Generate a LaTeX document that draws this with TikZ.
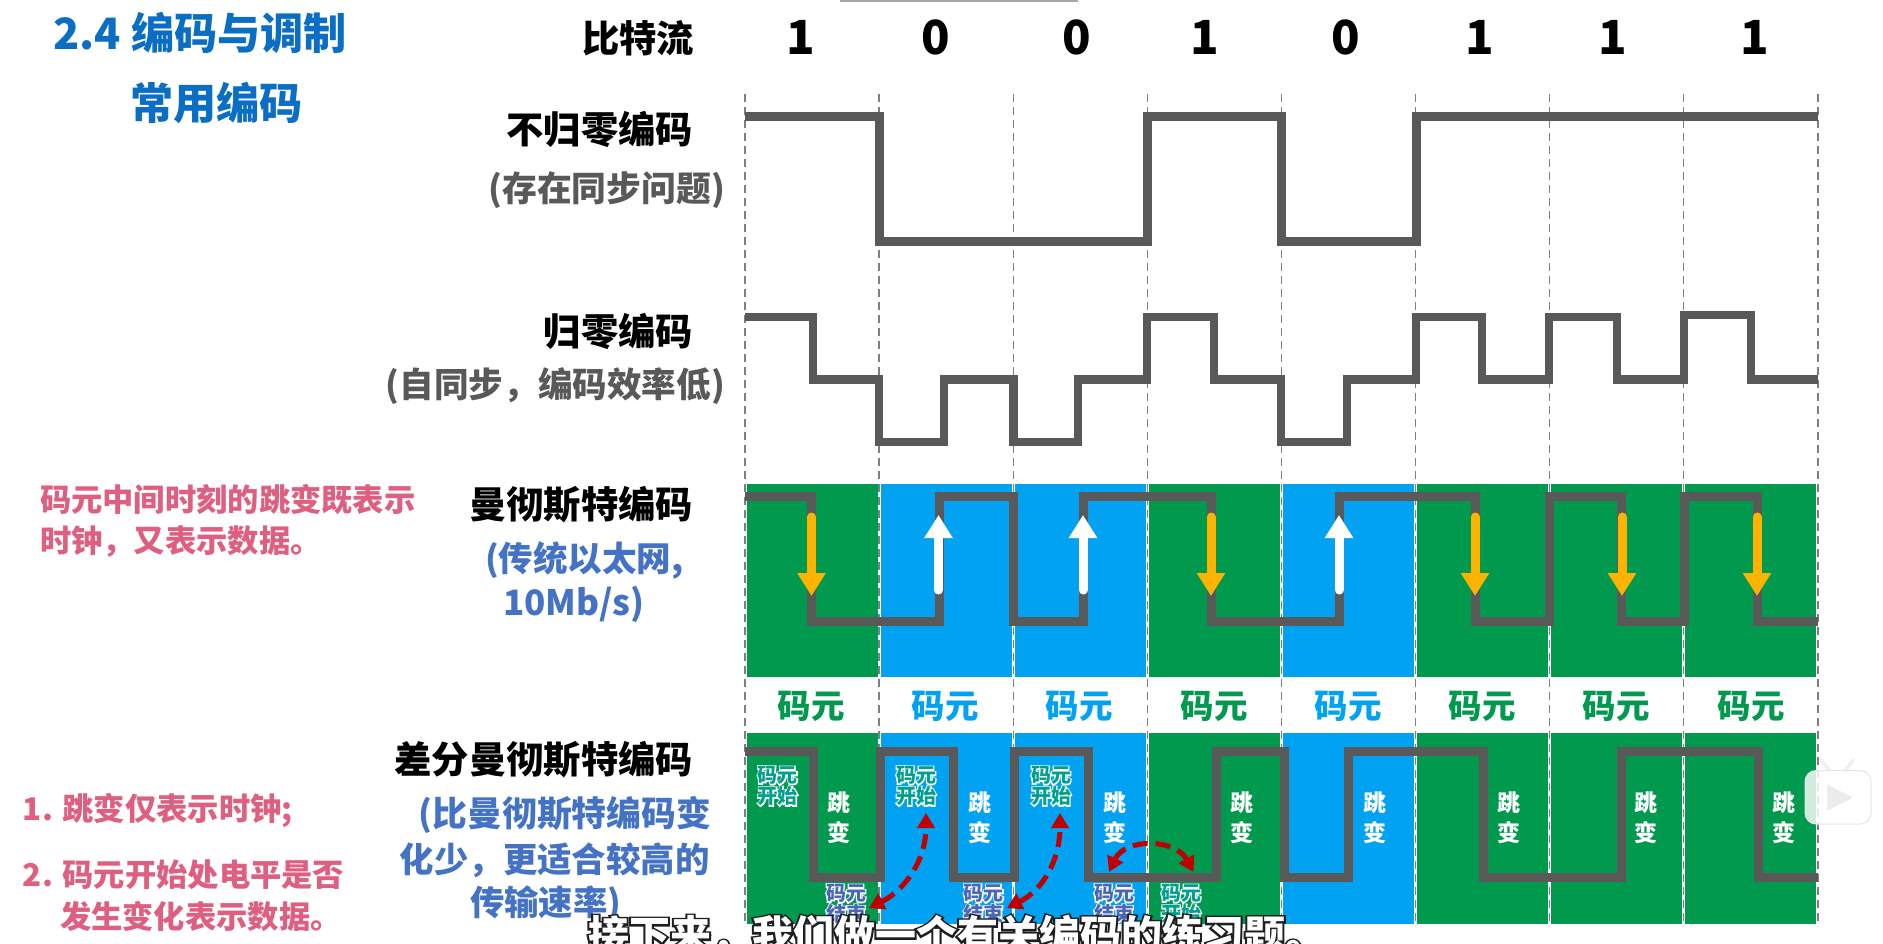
\documentclass[tikz,border=0pt]{standalone}
\usepackage{fontspec}
\setmainfont{Noto Sans CJK SC}
\usetikzlibrary{arrows.meta}
\definecolor{cgreen}{HTML}{00994E}
\definecolor{cblue}{HTML}{00A2F1}
\definecolor{wave}{HTML}{595959}
\definecolor{gridc}{HTML}{7F7F7F}
\definecolor{titleblue}{HTML}{0B6EC5}
\definecolor{noteblue}{HTML}{4472C4}
\definecolor{pinkc}{HTML}{DF5F80}
\definecolor{teal}{HTML}{00A08C}
\definecolor{labblue}{HTML}{4A66B8}
\definecolor{redc}{HTML}{C00000}
\definecolor{amber}{HTML}{FFB300}
% text with an outline behind it: width, stroke colour, text
\newcommand{\halotext}[3]{\leavevmode\rlap{\special{pdf:code 2 Tr #1 w #2 RG #2 rg}#3\special{pdf:code 0 Tr 1 w}}\textcolor{.}{#3}}
\tikzset{
  txt/.style={inner sep=0pt,outer sep=0pt,font=\fontsize{#1}{#1}\selectfont\bfseries},
  wavepath/.style={draw=wave,line width=9pt,miter limit=4},
  blockg/.style={fill=cgreen},
  blockb/.style={fill=cblue},
  gridline/.style={draw=gridc,line width=1.4pt,dash pattern=on 8pt off 5pt},
  upar/.style={white,line width=9pt,line cap=round,-{Triangle[length=23pt,width=27pt]}},
  downar/.style={amber,line width=9pt,line cap=round,-{Triangle[length=23pt,width=27pt]}},
  redar/.style={redc,line width=5pt,dash pattern=on 15pt off 8pt,{Triangle[length=15pt,width=17pt]}-{Triangle[length=15pt,width=17pt]}},
  jump/.style={txt=23,white,align=center},
  small/.style={txt=20,align=center},
}
\begin{document}
\begin{tikzpicture}[x=1pt,y=-1pt]
\useasboundingbox (0,0) rectangle (1883,943);
\fill[fill=gray!70] (840,0) rectangle (1078,1.5);

% coloured symbol blocks
\foreach \i/\st in {0/blockg,1/blockb,2/blockb,3/blockg,4/blockb,5/blockg,6/blockg,7/blockg}{
  \path[\st] ({745+134.1*\i+1.5},484) rectangle ({745+134.1*(\i+1)-1.5},676.5);
  \path[\st] ({745+134.1*\i+1.5},733) rectangle ({745+134.1*(\i+1)-1.5},924);
}
% grid
\foreach \i in {0,...,8}{
  \coordinate (gt\i) at ({745+134.1*\i},94);
  \coordinate (gb\i) at ({745+134.1*\i},926);
  \draw[gridline] (gt\i) -- (gb\i);
}

% waveforms
\draw[wavepath] (745,116.5) -| (879,241.5) -| (1147,116.5) -| (1281,241.5) -| (1416,116.5) -- (1818,116.5);
\draw[wavepath,line width=8.5pt] (745,317) -| (813,379.5) -| (879,442) -| (944,379.5) -| (1013.5,442) -| (1078,379.5) -| (1147,317) -| (1214,379.5) -| (1281,442) -| (1347,379.5) -| (1416,317) -| (1482,379.5) -| (1549,317) -| (1617,379.5) -| (1684,315) -| (1751,379.5) -- (1818,379.5);
\draw[wavepath] (745,496) -| (811,621.5) -| (939,496) -| (1013.5,621.5) -| (1083,496) -| (1211,621.5) -| (1339,496) -| (1475,621.5) -| (1549,496) -| (1621,621.5) -| (1684,496) -| (1757,621.5) -- (1818,621.5);
\draw[wavepath] (745,751) -| (813,877) -| (880,751) -| (953,877) -| (1014.5,751) -| (1088,877) -| (1216,751) -| (1284,877) -| (1348,751) -| (1483.5,877) -| (1621,751) -| (1758,877) -- (1818,877);

% transition arrows of the Manchester row
\foreach \x [count=\n] in {811.5,1211,1475,1622,1757}{
  \coordinate (da\n) at (\x,517);
  \coordinate (db\n) at (\x,596);
  \draw[downar] (da\n) -- (db\n);
}
\foreach \x [count=\n] in {938.5,1083,1339}{
  \coordinate (ua\n) at (\x,590);
  \coordinate (ub\n) at (\x,515);
  \draw[upar] (ua\n) -- (ub\n);
}

% title and row labels
\node[txt=43.2,titleblue,anchor=west] (title1) at (53.5,33) {2.4 编码与调制};
\node[txt=43.2,titleblue,anchor=west] (title2) at (130,103) {常用编码};
\node[txt=37.3,anchor=east] (bits) at (694,38) {比特流};
\foreach \x/\b [count=\n] in {801/1,935.5/0,1077/0,1204.5/1,1346/0,1479.5/1,1613/1,1754.5/1}{
  \node[txt=47] (bit\n) at (\x,37.5) {\b};
}
\node[txt=37.3,anchor=east] (nrz) at (693,129) {不归零编码};
\node[txt=34.8,wave,anchor=east] (nrzn) at (725,190) {(存在同步问题)};
\node[txt=37.3,anchor=east] (rz) at (693,331) {归零编码};
\node[txt=34.6,wave,anchor=east] (rzn) at (725,386) {(自同步，编码效率低)};
\node[txt=37.3,anchor=east] (man) at (693,505) {曼彻斯特编码};
\node[txt=34.5,noteblue,anchor=west] (mann1) at (485,560) {(传统以太网,};
\node[txt=35,noteblue,anchor=west] (mann2) at (503,604) {10Mb/s)};
\node[txt=37.3,anchor=east] (dman) at (693,760) {差分曼彻斯特编码};
\node[txt=34.8,noteblue,anchor=east] (dn1) at (711,815) {(比曼彻斯特编码变};
\node[txt=34.4,noteblue,anchor=east] (dn2) at (709.5,860) {化少，更适合较高的};
\node[txt=34.4,noteblue,anchor=west] (dn3) at (470,904) {传输速率)};
\node[txt=31.3,pinkc,anchor=west] (p1) at (40,500) {码元中间时刻的跳变既表示};
\node[txt=31.3,pinkc,anchor=west] (p2) at (40,542) {时钟，又表示数据。};
\node[txt=31.3,pinkc,anchor=west] (p3) at (23,810) {1. 跳变仅表示时钟;};
\node[txt=31.3,pinkc,anchor=west] (p4) at (23,875) {2. 码元开始处电平是否};
\node[txt=31.3,pinkc,anchor=west] (p5) at (60,916) {发生变化表示数据。};

% symbol captions
\foreach \x/\c [count=\n] in {811/cgreen,945/cblue,1079/cblue,1214/cgreen,1348/cblue,1482/cgreen,1616/cgreen,1751/cgreen}{
  \node[txt=33.5,text=\c] (sym\n) at (\x,706) {码元};
}
% jump labels
\foreach \x [count=\n] in {839,980,1114.5,1242,1375,1509,1646,1784}{
  \node[jump] (jmp\n) at (\x,818) {跳\\[7pt]变};
}
% start / end labels
\foreach \x [count=\n] in {777.5,916,1051}{
  \node[small,teal] (st\n) at (\x,786) {\halotext{2.4}{1 1 1}{码元}\\[1pt]\halotext{2.4}{1 1 1}{开始}};
}
\node[small,teal] (st4) at (1181,904) {\halotext{2.4}{1 1 1}{码元}\\[1pt]\halotext{2.4}{1 1 1}{开始}};
\foreach \x [count=\n] in {846,983.5,1114}{
  \node[small,labblue] (en\n) at (\x,904) {\halotext{2.4}{1 1 1}{码元}\\[1pt]\halotext{2.4}{1 1 1}{结束}};
}

% red dashed arrows
\coordinate (r1a) at (869,908); \coordinate (r1b) at (926,813);
\coordinate (r2a) at (1007,908); \coordinate (r2b) at (1060,813);
\coordinate (r3a) at (1109,872); \coordinate (r3b) at (1193.5,872);
\draw[redar] (r1a) .. controls (905,890) and (926,860) .. (r1b);
\draw[redar] (r2a) .. controls (1043,890) and (1060,860) .. (r2b);
\draw[redar] (r3a) .. controls (1125,838) and (1175,838) .. (r3b);

% player badge
\draw[gray!12,line width=3.5pt,line cap=round] (1821,760) -- (1830,771);
\draw[gray!12,line width=3.5pt,line cap=round] (1853.5,760) -- (1845,771);
\fill[white,opacity=.82,rounded corners=11pt] (1805,770.5) rectangle (1871,824);
\draw[gray!20,line width=1pt,rounded corners=11pt] (1805,770.5) rectangle (1871,824);
\fill[gray!15,draw=gray!15,line width=2pt,line join=round] (1828,786) -- (1851,797.5) -- (1828,809) -- cycle;

% subtitle
\node[txt=41,white,anchor=west] (sub) at (588,936) {\halotext{4}{0.12 0.12 0.12}{接下来，我们做一个有关编码的练习题。}};
\end{tikzpicture}
\end{document}
